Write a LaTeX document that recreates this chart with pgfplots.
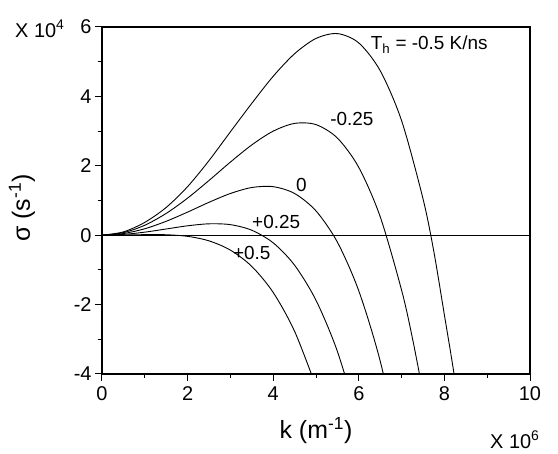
\documentclass[border=0pt]{standalone}
\usepackage{fontspec}
\setmainfont{Liberation Sans}
\usepackage{pgfplots}
\pgfplotsset{compat=1.18}
\begin{document}
\begin{tikzpicture}
\begin{axis}[
 name=ax,
 scale only axis, width=428bp, height=347bp,
 xmin=0,xmax=10,ymin=-4,ymax=6,
 xtick={0,2,4,6,8,10}, xticklabels={0,2,4,6,8,10},
 ytick={-4,-2,0,2,4,6}, yticklabels={-4,-2,0,2,4,6},
 minor x tick num=1, minor y tick num=1,
 tick align=outside, xtick pos=bottom, ytick pos=left,
 major tick length=7bp, minor tick length=3.5bp,
 axis line style={line width=1.2bp},
 every tick/.style={line width=1bp, black},
 tick label style={font=\fontsize{20}{23}\selectfont},
 xticklabel style={yshift=-2bp},
 xlabel={k (m\textsuperscript{-1})}, ylabel={σ (s\textsuperscript{-1})},
 label style={font=\fontsize{25}{29}\selectfont},
 xlabel style={at={(axis description cs:0.5,-0.163)}, anchor=center},
 ylabel style={at={(axis description cs:-0.187,0.478)}, anchor=center},
 clip=true,
]
\addplot[black, line width=0.9bp] coordinates {(0,0)(10,0)};
% T_h = -0.5
\addplot[black, line width=0.9bp, smooth] coordinates {
(0,0)(0.5,0.095)(1,0.37)(1.5,0.80)(2,1.40)(2.5,2.15)(3,2.98)(3.5,3.80)(4,4.58)(4.5,5.23)(5,5.67)(5.5,5.81)(6,5.54)(6.5,4.74)(7,3.30)(7.5,1.05)(7.75,-0.45)(8,-2.3)(8.25,-4.2)(8.5,-6.5)};
% -0.25
\addplot[black, line width=0.9bp, smooth] coordinates {
(0,0)(0.5,0.073)(1,0.287)(1.5,0.628)(2,1.069)(2.5,1.577)(3,2.107)(3.5,2.602)(4,2.999)(4.5,3.222)(5,3.187)(5.5,2.799)(6,1.953)(6.5,0.533)(7,-1.585)(7.25,-2.95)(7.5,-4.535)};
% 0
\addplot[black, line width=0.9bp, smooth] coordinates {
(0,0)(0.5,0.048)(1,0.186)(1.5,0.401)(2,0.666)(2.5,0.948)(3,1.202)(3.5,1.374)(4,1.398)(4.5,1.202)(5,0.700)(5.5,-0.201)(6,-1.606)(6.5,-3.627)(7,-6.39)};
% +0.25
\addplot[black, line width=0.9bp, smooth] coordinates {
(0,0)(0.5,0.023)(1,0.088)(1.5,0.179)(2,0.271)(2.5,0.328)(3,0.304)(3.5,0.143)(4,-0.221)(4.5,-0.865)(5,-1.875)(5.5,-3.349)(6,-5.39)};
% +0.5
\addplot[black, line width=0.9bp, smooth] coordinates {
(0,0)(0.5,0.005)(1,0.0155)(1.5,0.013)(2,-0.033)(2.5,-0.163)(3,-0.430)(3.5,-0.900)(4,-1.650)(4.5,-2.770)(5,-4.359)};
\node[anchor=base west, font=\fontsize{19}{22}\selectfont] at (axis cs:6.2,5.34) {T\textsubscript{h} = -0.5 K/ns};
\node[font=\fontsize{19}{22}\selectfont] at (axis cs:5.84,3.35) {-0.25};
\node[font=\fontsize{19}{22}\selectfont] at (axis cs:4.66,1.46) {0};
\node[font=\fontsize{19}{22}\selectfont] at (axis cs:4.07,0.39) {+0.25};
\node[font=\fontsize{19}{22}\selectfont] at (axis cs:3.50,-0.50) {+0.5};
\end{axis}
\node[anchor=base west, inner sep=0pt, font=\fontsize{20}{23}\selectfont] at ([xshift=-87bp,yshift=-10bp]ax.north west) {X 10\textsuperscript{4}};
\node[anchor=base west, inner sep=0pt, font=\fontsize{20}{23}\selectfont] at ([xshift=-40bp,yshift=-74bp]ax.south east) {X 10\textsuperscript{6}};
\pgfresetboundingbox
\path ([xshift=-102bp,yshift=-80bp]ax.south west) rectangle ([xshift=28bp,yshift=27bp]ax.north east);
\end{tikzpicture}
\end{document}
